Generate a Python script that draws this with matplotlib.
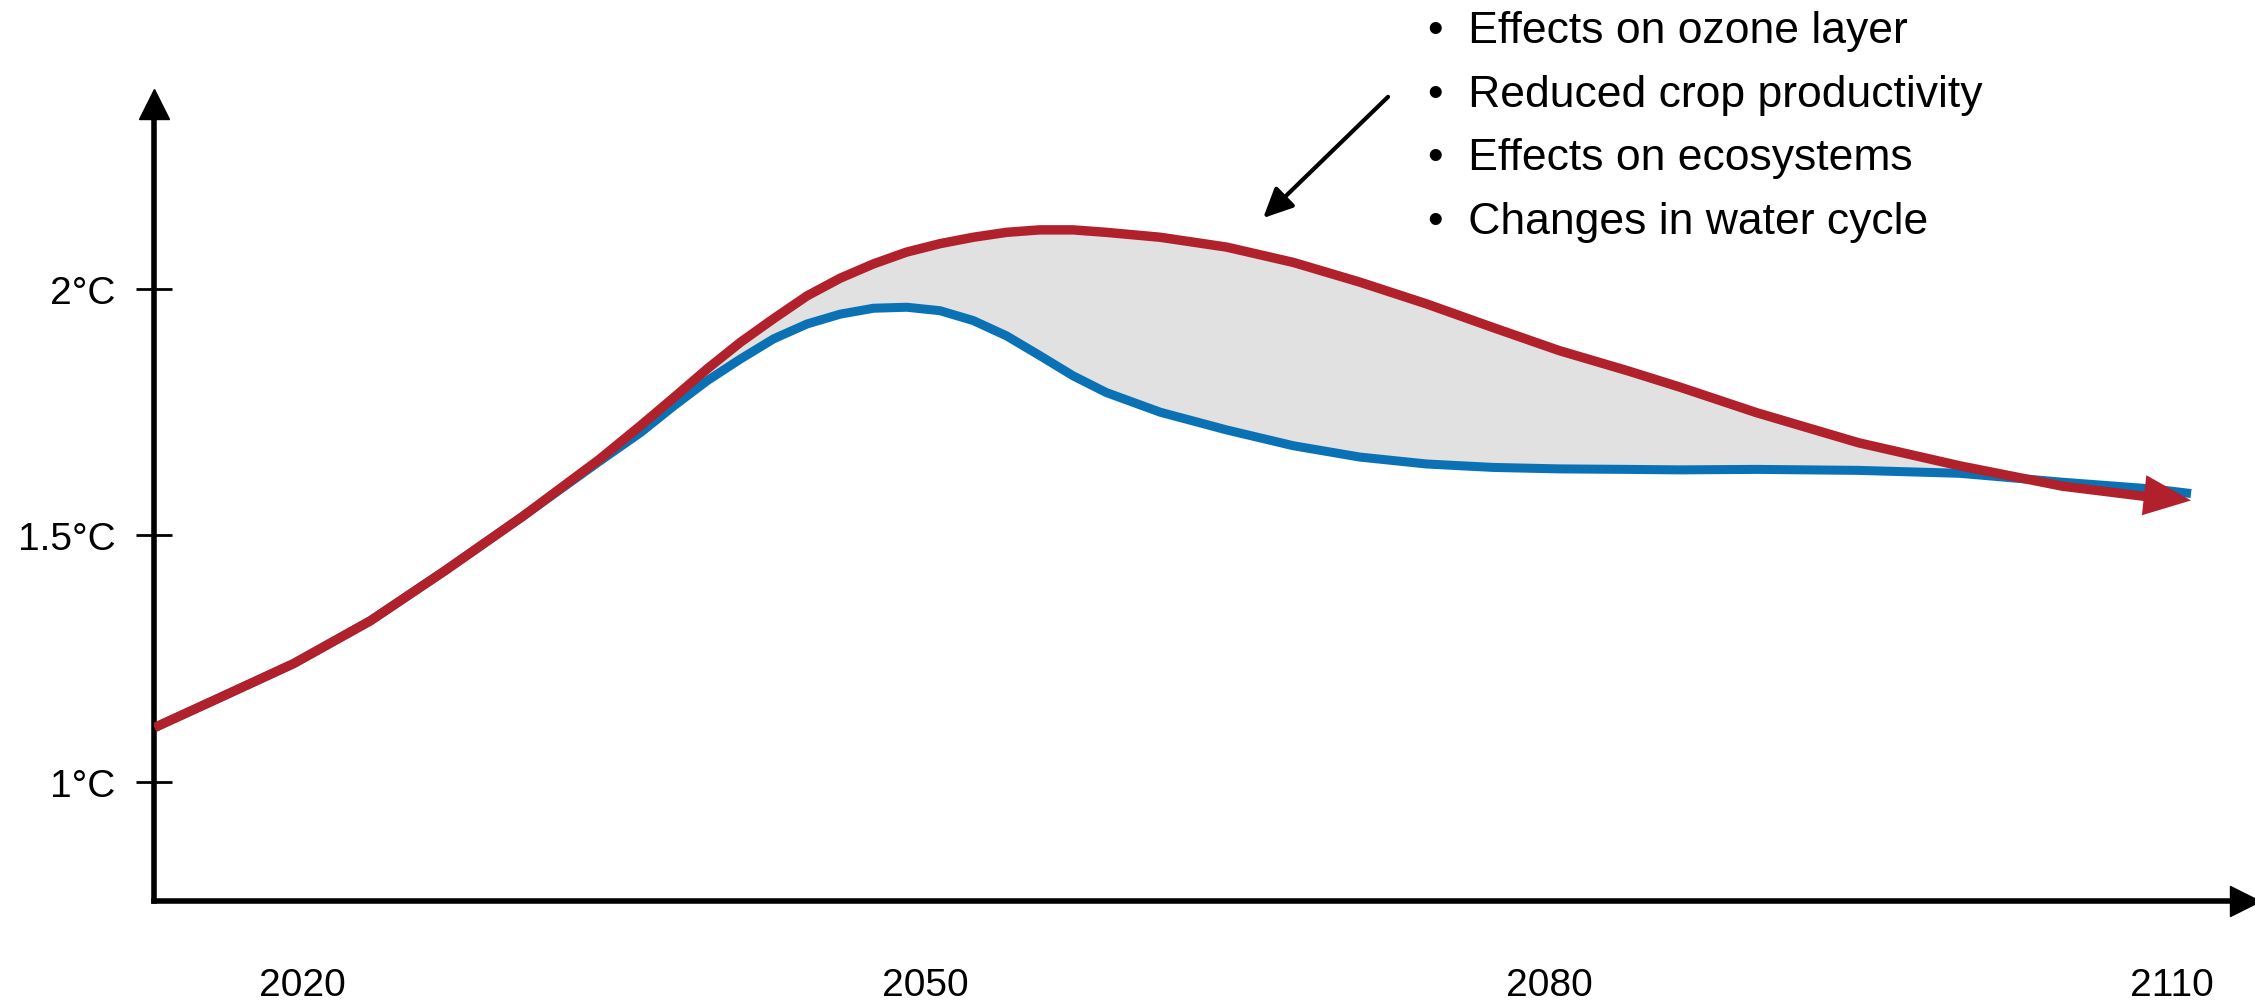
import matplotlib.pyplot as plt
import numpy as np

plt.rcParams['font.family'] = ['Liberation Sans', 'DejaVu Sans']

# values (year, warming in °C)
years = [2012.9, 2015.9, 2019.6, 2023.3, 2026.9, 2030.6, 2034.3, 2036.3, 2037.9,
         2039.5, 2041.1, 2042.7, 2044.3, 2045.9, 2047.5, 2049.1, 2050.7, 2052.3,
         2053.9, 2055.5, 2057.1, 2058.7, 2061.3, 2064.5, 2067.7, 2070.9, 2074.1,
         2077.3, 2080.5, 2083.8, 2086.3, 2090.0, 2094.9, 2099.8, 2104.7, 2109.1,
         2110.9]
warming_high = [1.110, 1.168, 1.240, 1.327, 1.429, 1.538, 1.654, 1.723, 1.780,
                1.838, 1.892, 1.940, 1.986, 2.022, 2.051, 2.075, 2.092, 2.105,
                2.115, 2.120, 2.120, 2.115, 2.105, 2.085, 2.054, 2.014, 1.970,
                1.922, 1.875, 1.834, 1.801, 1.749, 1.688, 1.641, 1.600, 1.577,
                1.571]
warming_low = [1.110, 1.168, 1.240, 1.327, 1.429, 1.538, 1.650, 1.709, 1.763,
               1.814, 1.858, 1.899, 1.929, 1.949, 1.961, 1.963, 1.956, 1.936,
               1.905, 1.865, 1.824, 1.790, 1.750, 1.714, 1.682, 1.659, 1.645,
               1.638, 1.635, 1.634, 1.633, 1.634, 1.632, 1.626, 1.608, 1.594,
               1.585]

ytick_vals = [1, 1.5, 2]
ytick_labels = ['1°C', '1.5°C', '2°C']
xtick_vals = [2020, 2050, 2080, 2110]
xtick_labels = ['2020', '2050', '2080', '2110']

impacts = ['Effects on ozone layer', 'Reduced crop productivity',
           'Effects on ecosystems', 'Changes in water cycle']

RED = '#b0212b'
BLUE = '#0a72b4'
GREY = '#e1e1e1'

fig = plt.figure(figsize=(22.55, 10.03), dpi=100)
ax = fig.add_axes([0.0683, 0.1011, 0.9273, 0.7942])
ax.set_xlim(2012.88, 2113.5)
ax.set_ylim(0.759, 2.3754)

hi = np.array(warming_high)
lo = np.array(warming_low)

# shaded gap between the two pathways
ax.fill_between(years, lo, hi, where=hi >= lo, interpolate=True,
                color=GREY, lw=0, zorder=1)
ax.plot(years, lo, color=BLUE, lw=6.5, solid_capstyle='butt',
        solid_joinstyle='round', zorder=2)
ax.plot(years[:-1], hi[:-1], color=RED, lw=6.8, solid_capstyle='butt',
        solid_joinstyle='round', zorder=3)

# arrow head on the end of the red curve
ax.annotate('', xy=(years[-1], hi[-1]), xytext=(years[-3], hi[-3]),
            arrowprops=dict(arrowstyle='-|>,head_length=3.4,head_width=1.45',
                            mutation_scale=10, facecolor=RED, edgecolor=RED,
                            lw=0, shrinkA=0, shrinkB=0), zorder=4)

# axes styling
for side in ['top', 'right']:
    ax.spines[side].set_visible(False)
for side in ['left', 'bottom']:
    ax.spines[side].set_linewidth(4)
    ax.spines[side].set_color('black')
ax.set_yticks(ytick_vals)
ax.set_yticklabels(ytick_labels)
ax.set_xticks(xtick_vals)
ax.set_xticklabels(xtick_labels)
ax.tick_params(axis='y', direction='inout', length=26, width=2.0, pad=15,
               labelsize=28, colors='black')
ax.tick_params(axis='x', length=0, pad=48, labelsize=28, colors='black')

# arrow tips on the axes
ax.plot(0, 1, marker='^', ms=22, color='black', transform=ax.transAxes, clip_on=False)
ax.plot(1, 0, marker='>', ms=22, color='black', transform=ax.transAxes, clip_on=False)

# annotation arrow and list of impacts
ax.annotate('', xy=(2066.25, 2.144), xytext=(2072.26, 2.39),
            arrowprops=dict(arrowstyle='-|>,head_length=1.8,head_width=0.85',
                            mutation_scale=10, color='black', lw=3.0,
                            shrinkA=0, shrinkB=0),
            annotation_clip=False)

for i, item in enumerate(impacts):
    fig.text(0.6333, 0.9573 - i * 0.0636, '•  ' + item, fontsize=32,
             va='baseline', ha='left', color='black')

plt.savefig('out.png', dpi=100)
plt.close()
